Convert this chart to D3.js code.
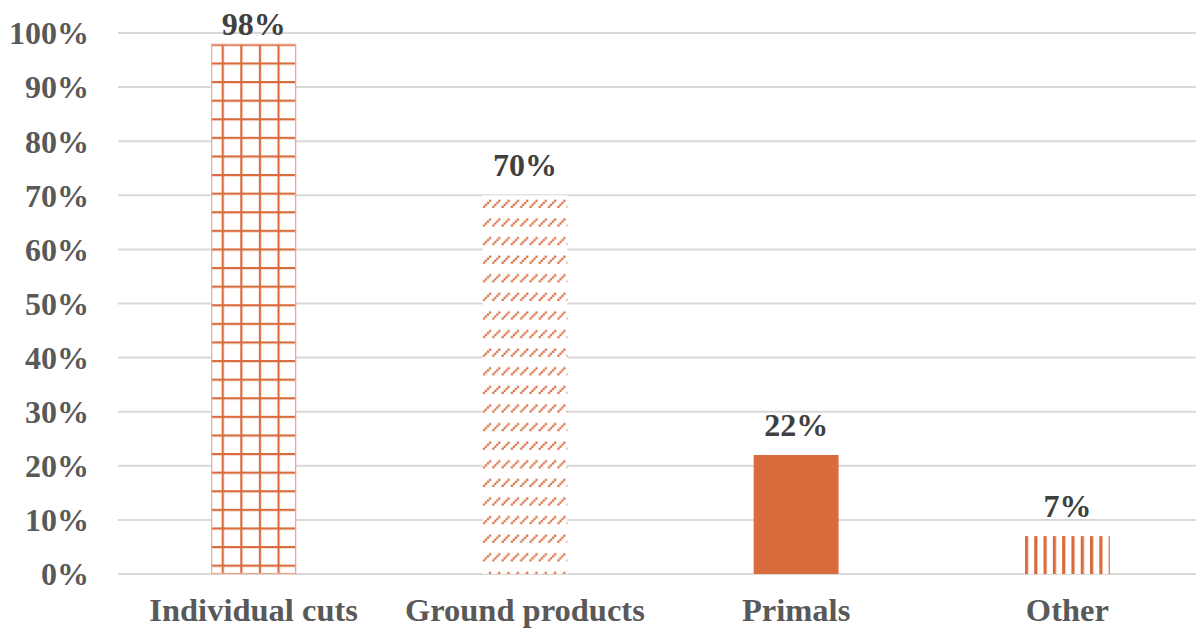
<!DOCTYPE html>
<html>
<head>
<meta charset="utf-8">
<script src="https://cdn.jsdelivr.net/npm/d3@7"></script>
<style>
  html, body { margin: 0; padding: 0; background: #fff; }
  svg { display: block; }
  text { font-family: "Liberation Serif", "Times New Roman", serif; font-weight: bold; }
</style>
</head>
<body>
<svg id="chart" width="1196" height="629"></svg>
<script>
// Share of purchases by product type
const categories = ["Individual cuts", "Ground products", "Primals", "Other"];
const values = [0.98, 0.70, 0.22, 0.07];
const fills = ["grid", "dash", "solid", "stripe"];
const tickValues = [0, 0.1, 0.2, 0.3, 0.4, 0.5, 0.6, 0.7, 0.8, 0.9, 1.0];

const W = 1196, H = 629;
const plot = { left: 118, right: 1203, top: 33, bottom: 574 };
const orange = "#D96C3D";

const svg = d3.select("#chart");
const defs = svg.append("defs");

const x = d3.scaleBand()
  .domain(categories)
  .range([plot.left, plot.right])
  .paddingInner(0.687)
  .paddingOuter(0.3435);

const y = d3.scaleLinear()
  .domain([0, 1])
  .range([plot.bottom, plot.top]);

// Gridlines
svg.append("g")
  .selectAll("line")
  .data(tickValues)
  .join("line")
  .attr("x1", plot.left)
  .attr("x2", W)
  .attr("y1", d => y(d))
  .attr("y2", d => y(d))
  .attr("stroke", "#d9d9d9")
  .attr("stroke-width", 2);

// Y axis labels
const yAxis = d3.axisLeft(y)
  .tickValues(tickValues)
  .tickFormat(d3.format(".0%"))
  .tickSize(0)
  .tickPadding(0);
const yg = svg.append("g")
  .attr("transform", `translate(89,0)`)
  .call(yAxis);
yg.select(".domain").remove();
yg.selectAll("text")
  .attr("fill", "#595959")
  .attr("font-size", 32)
  .attr("font-family", "Liberation Serif, serif")
  .attr("font-weight", "bold")
  .attr("dy", "0.34em");

// X axis labels
const xAxis = d3.axisBottom(x).tickSize(0).tickPadding(0);
const xg = svg.append("g")
  .attr("transform", `translate(0,${plot.bottom})`)
  .call(xAxis);
xg.select(".domain").remove();
xg.selectAll("text")
  .attr("fill", "#595959")
  .attr("font-size", 32.5)
  .attr("font-family", "Liberation Serif, serif")
  .attr("font-weight", "bold")
  .attr("dy", 0)
  .attr("y", 47);

// Fill patterns, anchored at each bar's top-left corner
const unit = 9.3;
function makePattern(kind, bx, by) {
  const id = "pat-" + kind;
  if (kind === "grid") {
    const p = defs.append("pattern").attr("id", id)
      .attr("patternUnits", "userSpaceOnUse")
      .attr("x", bx + 10.5).attr("y", by)
      .attr("width", unit * 2).attr("height", unit * 2);
    p.append("rect").attr("width", unit * 2).attr("height", unit * 2).attr("fill", "#fff");
    p.append("rect").attr("x", 0).attr("y", 0).attr("width", 2.2).attr("height", unit * 2).attr("fill", orange);
    p.append("rect").attr("x", 0).attr("y", 0).attr("width", unit * 2).attr("height", 2.2).attr("fill", orange);
  } else if (kind === "dash") {
    const p = defs.append("pattern").attr("id", id)
      .attr("patternUnits", "userSpaceOnUse")
      .attr("x", bx).attr("y", by)
      .attr("width", unit).attr("height", unit * 2);
    p.append("rect").attr("width", unit).attr("height", unit * 2).attr("fill", "#fff");
    const pts = [[0.5, 7.5], [2.5, 5.5], [4.5, 3.5], [6.5, 1.5]];
    pts.forEach(([px, py]) => {
      p.append("rect").attr("x", px).attr("y", py + 3).attr("width", 2.2).attr("height", 2.2).attr("fill", orange);
    });
  } else if (kind === "stripe") {
    const p = defs.append("pattern").attr("id", id)
      .attr("patternUnits", "userSpaceOnUse")
      .attr("x", bx).attr("y", by)
      .attr("width", unit).attr("height", unit);
    p.append("rect").attr("width", unit).attr("height", unit).attr("fill", "#fff");
    p.append("rect").attr("x", 0).attr("y", 0).attr("width", 3.2).attr("height", unit).attr("fill", orange);
  }
  return "url(#" + id + ")";
}

const bars = categories.map((c, i) => ({ cat: c, v: values[i], kind: fills[i] }));

const barG = svg.append("g");
bars.forEach(d => {
  const bx = x(d.cat), by = y(d.v), bw = x.bandwidth(), bh = y(0) - y(d.v);
  const fill = d.kind === "solid" ? orange : makePattern(d.kind, bx, by);
  barG.append("rect")
    .attr("x", bx).attr("y", by)
    .attr("width", bw).attr("height", bh)
    .attr("fill", fill);
  if (d.kind === "grid") {
    barG.append("rect")
      .attr("x", bx + 0.5).attr("y", by + 0.5)
      .attr("width", bw - 1).attr("height", bh - 1)
      .attr("fill", "none")
      .attr("stroke", "#EBA98A").attr("stroke-width", 1.2);
  }
});

// Value labels
svg.append("g")
  .selectAll("text")
  .data(bars)
  .join("text")
  .attr("x", d => x(d.cat) + x.bandwidth() / 2)
  .attr("y", d => Math.max(y(d.v) - 19, 35))
  .attr("text-anchor", "middle")
  .attr("fill", "#404040")
  .attr("font-size", 32)
  .text(d => d3.format(".0%")(d.v));
</script>
</body>
</html>
